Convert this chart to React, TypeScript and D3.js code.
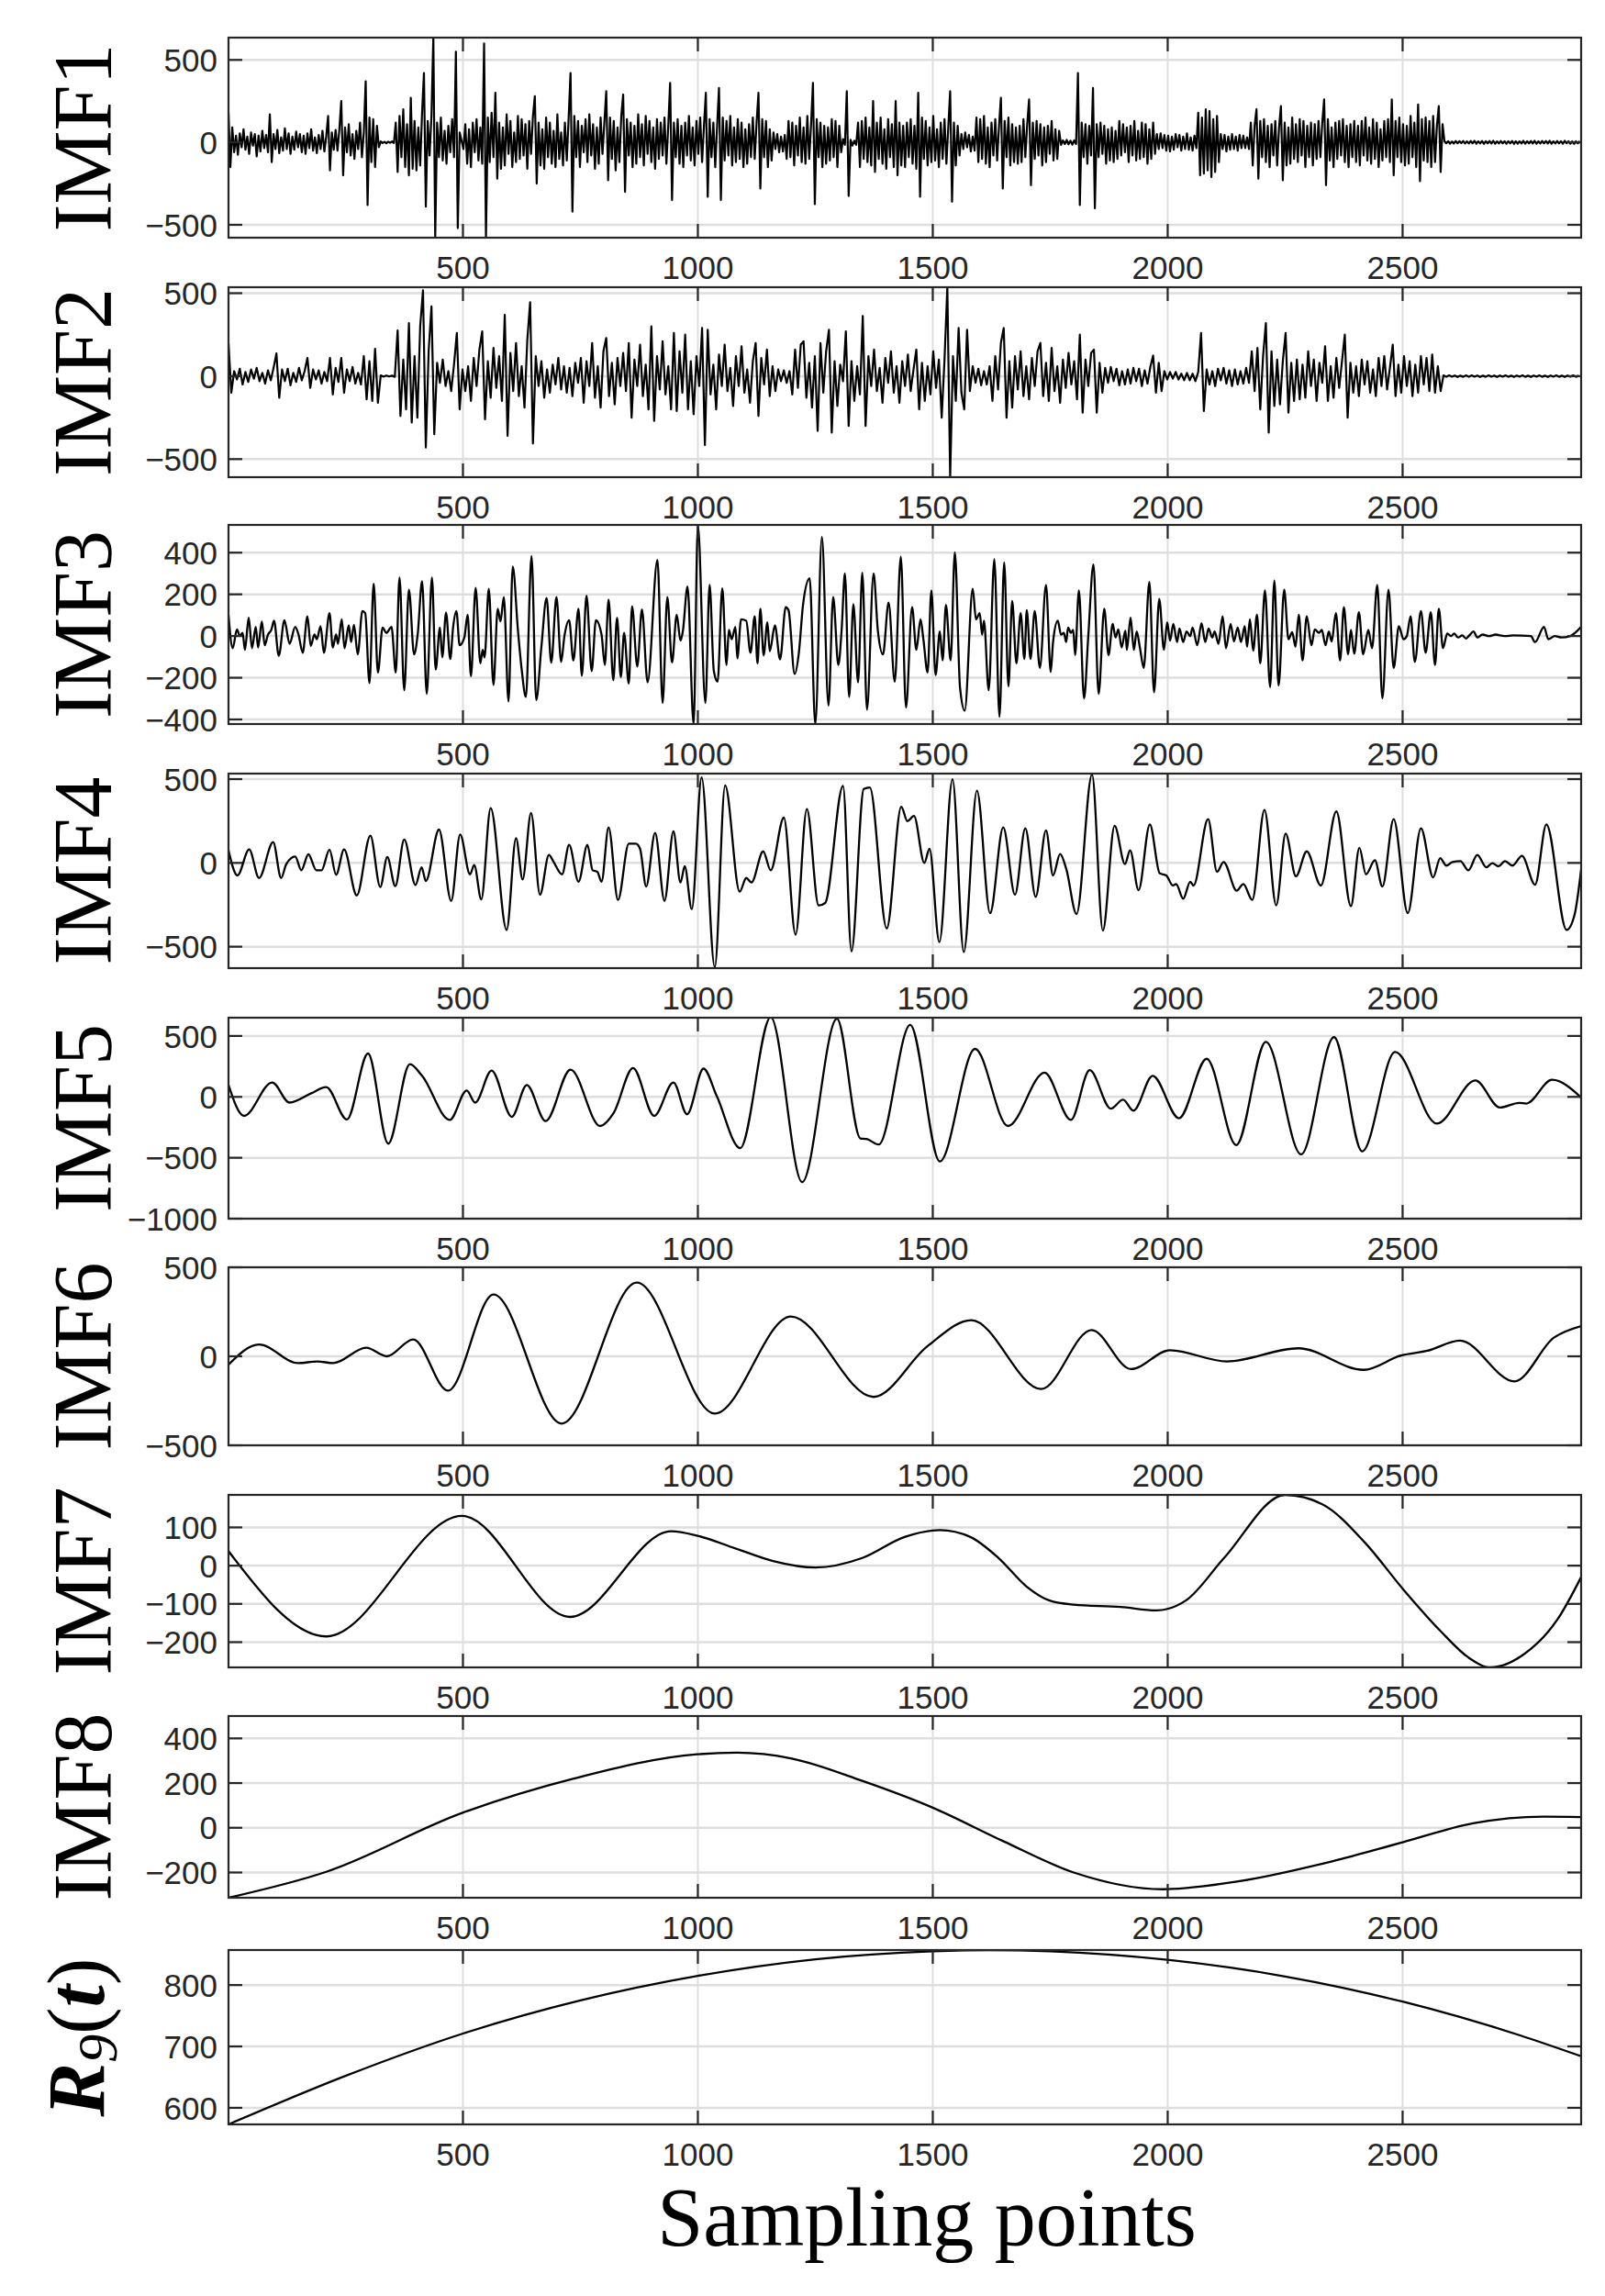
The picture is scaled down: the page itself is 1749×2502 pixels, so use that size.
import React from 'react';
import * as d3 from 'd3';

// ---------------- DATA ----------------
const X_MIN = 1;
const X_MAX = 2880;
const IMF1_STEP = 4;
const IMF2_STEP = 6;
const xTickValues = [500, 1000, 1500, 2000, 2500];

const imf1Values: number[] = [
  180,-150,90,-60,40,-75,55,-30,80,-45,35,-70,60,-20,50,-85,40,-55,70,-35,
  45,-60,170,-120,50,-40,75,-65,30,-50,85,-40,55,-70,35,-45,65,-30,50,-60,
  40,-70,55,-35,80,-50,30,-65,45,-40,70,-55,35,160,-170,60,-45,75,-50,80,
  250,-200,90,-60,110,-80,50,-100,70,-40,120,-90,60,370,-380,150,-120,140,-150,100,
  -30,5,-4,3,-5,4,-3,5,-4,120,-180,160,-90,200,-150,110,-200,270,-160,130,
  -170,90,-140,180,420,-390,130,-80,160,640,-578,120,-90,150,-110,70,-130,100,-60,140,
  -90,550,-520,60,10,-40,110,-130,80,-150,120,-60,140,-110,90,-130,600,-578,150,-120,
  180,-90,300,-220,120,-160,90,-140,170,-70,130,-150,60,-120,160,-100,140,-80,110,-160,
  130,-70,160,280,-250,120,-140,80,-160,150,-90,120,-130,70,-150,170,-100,60,-140,120,
  -110,150,420,-420,160,-90,130,-150,100,-60,140,-120,170,-80,110,-160,90,-130,150,-70,
  120,310,-230,150,-100,130,-170,90,-120,160,290,-300,140,-80,120,-150,100,-130,170,-90,
  110,-140,160,-70,130,-120,90,-160,140,-100,120,-80,150,-130,100,360,-350,120,-90,140,
  -130,100,-150,120,-80,160,-110,90,-140,130,-70,150,-120,100,300,-330,140,-90,120,-150,
  100,330,-350,150,-110,130,-80,160,-140,90,-120,140,-100,120,-150,80,-130,110,-90,150,
  -100,120,300,-280,140,-90,130,-150,80,-110,60,-40,50,-60,35,-55,45,-100,130,-90,
  120,-140,100,-80,150,-120,90,-130,160,-100,110,360,-375,140,-90,120,-150,100,-130,90,
  -110,140,-90,130,-150,100,-60,20,-15,310,-325,15,-20,10,-15,120,-150,130,-100,150,
  -120,90,-140,250,-180,120,-100,150,-130,80,-160,140,-90,110,-150,250,-200,120,-140,100,
  -150,120,-90,140,-130,100,-160,300,-330,150,-100,130,-140,90,-120,160,-110,80,-150,120,
  -100,140,-130,90,310,-360,120,-140,100,-80,50,-40,60,-30,45,-55,35,-50,150,-120,
  140,-100,160,-130,90,-150,120,-80,140,-110,100,270,-280,130,-90,150,-140,110,-120,90,
  -130,100,-120,140,-90,110,260,-260,120,-100,130,-80,110,-140,90,-120,100,-70,130,-110,
  80,-100,70,-15,12,-10,15,-12,10,-14,12,-10,420,-380,120,-90,110,-130,100,-80,
  330,-400,110,-90,120,-70,100,-130,80,-110,90,-120,70,-100,130,-80,110,-60,90,-120,
  100,-80,130,-110,70,-100,120,-90,110,-130,80,-100,120,-70,50,-40,55,-35,45,-50,
  40,-55,35,-45,50,-30,45,-50,35,-40,55,-45,30,-50,40,-35,180,-200,150,-190,
  200,-170,190,-210,140,-180,160,-120,50,-40,45,-55,35,-45,50,-40,35,-50,45,-35,
  40,-35,30,-40,120,-140,100,200,-220,130,-90,140,-120,100,-150,110,-80,130,-140,90,
  220,-230,120,-140,90,-130,150,-100,110,-120,140,-80,130,-150,100,-90,120,-140,110,-100,
  130,-90,120,260,-260,140,-110,90,-150,120,-100,130,-80,140,-120,100,-150,110,-90,130,
  -120,100,-140,130,-80,150,-110,90,-130,140,-100,120,-150,80,-110,130,-90,140,-120,260,
  -200,130,-90,150,-120,110,-140,100,-130,160,-90,120,-150,230,-235,140,-110,150,-120,130,
  -150,160,-120,100,220,-180,110,8,-6,7,-8,5,-7,8,-6,7,-5,8,-7,6,
  -7,8,-6,9,-8,6,-7,8,-9,7,-6,8,-7,9,-8,6,-7,8,-6,7,
  -8,7,-6,8,-9,7,-8,6,-7,9,-8,7,-6,8,-7,9,-8,6,-7,8,
  -6,8,-7,9,-8,6,-7,8,-6,7,-8,9,-6,7,-8,6,-9,7,-6,8,
];

const imf2Values: number[] = [
  200,-100,30,-20,45,-50,25,-35,40,-15,50,-30,20,-45,35,-25,50,137,-130,40,
  -30,45,-55,20,-35,50,-25,30,110,-70,40,-20,35,-45,25,-30,110,-110,50,-35,
  110,-100,40,-30,55,-45,20,-50,120,-140,90,-150,165,-160,5,-3,4,-2,3,-4,
  275,-240,100,-200,320,-280,120,-250,300,518,-430,150,420,-350,80,-40,100,-60,30,-90,
  70,260,-200,40,-90,60,-150,110,-60,160,270,-260,90,-130,170,-70,120,-150,370,-360,
  140,-90,200,-120,60,-190,220,446,-406,120,-60,90,-130,40,-100,70,-50,110,-80,60,
  -100,50,-120,80,-40,110,-160,90,-60,200,-130,60,-190,150,230,-120,80,-170,110,-60,
  140,-90,200,-250,100,-60,190,-120,70,-200,300,-270,120,-80,210,-110,60,-200,260,-210,
  150,-100,250,-200,90,-230,120,-60,290,-415,280,-110,70,-200,130,-60,190,-90,50,-180,
  120,-60,180,-100,40,-160,90,200,-240,110,-50,160,-120,60,-90,40,-30,35,-40,30,
  -110,160,-70,190,210,-130,80,-190,120,-330,200,-100,150,280,-340,90,-180,70,-30,270,
  -300,90,-150,60,-110,363,-300,120,-60,160,-90,50,-160,110,-40,150,-100,60,-160,90,
  -60,130,-90,40,160,-200,80,-150,60,-110,150,-70,100,-250,100,536,-609,120,-150,290,
  -100,-200,280,-90,60,-40,45,-55,30,-50,60,-150,120,-80,200,290,-250,90,-190,120,
  -80,150,-120,60,-140,110,-60,150,200,-120,80,-150,170,-90,60,-160,100,-70,140,-50,
  90,-140,250,-220,100,-60,140,160,-220,80,-100,50,-40,55,-30,45,-55,30,-50,40,
  -45,50,-30,45,-60,35,-45,55,124,-100,80,-90,30,-20,25,-15,25,-20,15,-25,
  20,-25,15,-30,25,260,-210,40,-50,30,-60,45,-25,50,-45,35,-60,40,-50,30,
  -45,50,-40,150,-90,170,-200,120,320,-340,150,-180,100,-170,90,260,-220,80,-150,100,
  -140,70,-130,150,-60,100,-150,80,-40,180,-150,60,-130,110,-70,90,250,-250,80,-100,
  60,-120,100,-50,90,-100,40,-120,110,-60,120,-80,50,190,-120,70,-100,120,-60,90,
  -120,70,-100,120,-50,110,-90,130,-100,60,-90,5,-4,5,-3,4,-5,3,-4,5,
  -4,5,-3,4,-5,3,-4,5,-3,4,-5,4,-3,5,-4,3,-5,4,-3,5,
  -4,3,-5,4,-3,5,-4,3,-5,4,-3,5,-4,3,-5,4,-3,5,-4,3,
];

// IMF3 extrema [sample, value]
const imf3Points: [number, number][] = [
  [1,100],[10,-58],[19,32],[25,0],[31,15],[36,-66],[44,88],[51,-58],[59,44],[64,-55],[72,70],[78,-44],[85,7],[92,29],[98,73],
  [108,-95],[120,76],[131,-37],[143,44],[150,7],[159,-80],[169,95],[176,-47],[184,7],[189,-15],[197,47],[204,-80],[216,110],
  [223,-55],[230,7],[234,-37],[242,80],[248,-58],[257,51],[262,-29],[268,54],[276,-88],[286,120],[292,110],[301,-226],[310,251],
  [319,-175],[329,41],[337,15],[348,44],[357,-175],[365,280],[375,-260],[385,222],[396,-88],[404,15],[413,263],[423,-277],[434,280],
  [442,-160],[451,41],[456,-102],[464,112],[473,-110],[479,41],[486,120],[493,-44],[503,-7],[510,102],[517,-193],[527,231],[537,-131],
  [542,-66],[546,-102],[555,226],[565,-234],[574,131],[580,70],[587,187],[597,-314],[606,333],[617,29],[625,-160],[634,-292],[646,384],
  [656,-307],[667,-51],[678,182],[688,-128],[699,187],[709,-124],[716,0],[726,76],[735,-117],[746,131],[753,-190],[763,193],[774,-168],
  [783,76],[795,7],[802,-139],[810,175],[820,-212],[828,88],[836,-197],[843,15],[853,-228],[860,143],[871,-146],[881,127],[893,-222],
  [914,365],[925,-321],[935,187],[945,-127],[955,102],[963,-22],[968,22],[978,237],[991,-423],[1000,533],[1016,-321],[1025,245],
  [1034,-168],[1042,-219],[1052,229],[1061,-139],[1066,29],[1072,-15],[1080,44],[1084,-107],[1092,80],[1103,73],[1112,-80],[1121,95],
  [1127,-131],[1133,131],[1140,-92],[1148,66],[1153,-73],[1164,51],[1175,-112],[1187,139],[1193,124],[1206,-182],[1215,-80],[1224,153],
  [1238,277],[1250,-423],[1264,475],[1278,-333],[1288,187],[1299,-139],[1306,29],[1313,300],[1322,-292],[1331,153],[1341,-222],[1350,304],
  [1360,-353],[1374,300],[1383,29],[1394,-88],[1406,161],[1419,-219],[1432,380],[1443,-343],[1456,139],[1465,-66],[1474,80],[1480,-15],
  [1489,-175],[1497,219],[1506,-187],[1515,22],[1521,-117],[1528,149],[1538,-117],[1547,401],[1558,-248],[1568,-358],[1585,226],[1592,80],
  [1600,110],[1605,7],[1609,73],[1619,-260],[1631,368],[1642,-387],[1652,353],[1661,-241],[1669,168],[1678,-131],[1687,110],[1695,-110],
  [1700,124],[1708,-110],[1717,120],[1728,-153],[1741,245],[1751,-172],[1756,-29],[1766,73],[1773,7],[1779,15],[1784,-29],[1788,41],
  [1794,15],[1799,29],[1803,-91],[1811,219],[1822,-299],[1831,0],[1842,343],[1853,-277],[1865,131],[1874,-91],[1883,58],[1889,-7],
  [1895,32],[1902,-55],[1910,26],[1913,-66],[1921,88],[1928,-66],[1934,22],[1941,-58],[1949,-153],[1961,260],[1971,-270],[1982,178],
  [1992,-66],[1999,66],[2005,-22],[2012,58],[2020,-29],[2025,36],[2033,-29],[2040,22],[2048,0],[2053,41],[2063,-44],[2072,61],
  [2080,-29],[2087,36],[2095,-7],[2100,22],[2108,-37],[2117,95],[2124,-58],[2134,58],[2141,-26],[2149,41],[2156,-29],[2164,47],
  [2169,-51],[2175,80],[2182,-70],[2190,102],[2197,-131],[2207,219],[2218,-245],[2227,266],[2236,-237],[2248,222],[2257,-15],[2265,18],
  [2272,-51],[2279,102],[2287,-117],[2296,95],[2306,-44],[2313,32],[2322,15],[2328,29],[2336,-44],[2343,22],[2349,-26],[2358,110],
  [2367,-117],[2375,139],[2384,-88],[2390,29],[2397,-85],[2407,114],[2416,-88],[2427,29],[2435,-58],[2446,245],[2457,-299],[2470,222],
  [2481,-153],[2492,47],[2502,-15],[2509,0],[2517,95],[2526,-124],[2539,120],[2549,-80],[2560,114],[2569,-139],[2577,131],[2586,-58],
  [2595,12],[2603,0],[2610,12],[2618,-7],[2627,3],[2635,-12],[2642,3],[2651,22],[2659,-7],[2670,7],[2684,0],[2698,7],[2717,0],
  [2735,3],[2773,0],[2782,-29],[2801,44],[2810,-15],[2824,0],[2838,-7],[2857,0],[2880,44],
];

// IMF4 extrema [sample, value]
const imf4Points: [number, number][] = [
  [1,75],[20,-75],[45,80],[66,-90],[96,124],[113,-90],[124,-7],[143,38],[156,-44],[171,51],[188,-44],[199,-44],[216,79],[230,-71],
  [247,80],[274,-194],[303,163],[324,-144],[339,35],[356,-139],[375,139],[399,-132],[412,-26],[421,-108],[449,199],[475,-227],[494,170],
  [515,-68],[524,-13],[539,-218],[559,327],[593,-400],[613,148],[627,-99],[645,298],[664,-190],[683,48],[692,11],[711,-68],[726,108],
  [746,-112],[765,108],[776,-44],[786,-53],[795,-112],[810,212],[830,-221],[853,115],[868,115],[877,84],[890,-141],[909,179],[929,-227],
  [948,188],[963,-117],[972,-20],[987,-276],[1008,510],[1036,-623],[1058,462],[1089,-172],[1103,-90],[1114,-117],[1139,69],[1155,-44],
  [1183,270],[1208,-428],[1232,322],[1257,-254],[1271,-239],[1309,459],[1327,-528],[1353,441],[1366,450],[1402,-391],[1433,335],[1446,249],
  [1460,280],[1482,0],[1493,84],[1514,-473],[1542,499],[1566,-532],[1594,431],[1622,-300],[1650,212],[1675,-190],[1697,207],[1719,-203],
  [1741,194],[1756,-75],[1771,53],[1784,-35],[1806,-305],[1839,528],[1862,-404],[1887,221],[1909,-7],[1920,75],[1938,-163],[1962,230],
  [1983,-62],[1997,-75],[2011,-135],[2018,-126],[2033,-214],[2048,-112],[2055,-135],[2086,261],[2105,-53],[2119,5],[2147,-166],[2161,-126],
  [2180,-221],[2206,316],[2231,-254],[2251,175],[2273,-80],[2296,69],[2326,-135],[2359,307],[2390,-258],[2408,90],[2422,-68],[2441,16],
  [2457,-141],[2481,261],[2511,-300],[2539,207],[2565,-86],[2580,29],[2593,-16],[2606,5],[2623,11],[2640,-44],[2659,48],[2678,-26],
  [2691,-2],[2704,-20],[2718,11],[2734,-16],[2754,42],[2782,-130],[2806,230],[2849,-400],[2866,-309],[2880,-40],
];

// IMF5 extrema [sample, value]
const imf5Points: [number, number][] = [
  [1,97],[34,-156],[94,118],[131,-47],[177,29],[209,80],[253,-186],[298,356],[341,-384],[387,269],[413,173],[472,-189],[508,52],
  [526,-47],[561,216],[604,-164],[636,97],[676,-199],[729,224],[792,-239],[821,-131],[862,237],[907,-156],[948,118],[977,-143],
  [1012,232],[1040,9],[1090,-421],[1155,654],[1222,-700],[1296,642],[1346,-341],[1359,-346],[1385,-391],[1452,591],[1515,-530],
  [1590,394],[1660,-239],[1738,199],[1794,-189],[1834,219],[1879,-97],[1905,-24],[1927,-113],[1968,173],[2024,-176],[2083,313],
  [2146,-396],[2209,452],[2284,-472],[2354,490],[2414,-447],[2484,368],[2573,-219],[2655,135],[2707,-87],[2748,-49],[2763,-55],
  [2818,140],[2880,-5],
];

// IMF6 extrema [sample, value]
const imf6Points: [number, number][] = [
  [1,-47],[66,66],[149,-38],[190,-29],[224,-38],[294,48],[338,0],[394,95],[468,-193],[565,347],[710,-378],[870,414],[1036,-322],
  [1198,224],[1374,-228],[1490,60],[1582,203],[1731,-184],[1838,148],[1922,-72],[2005,34],[2126,-29],[2278,45],[2417,-76],[2497,5],
  [2553,31],[2622,88],[2738,-141],[2822,105],[2880,170],
];

// IMF7 key points [sample, value]
const imf7Points: [number, number][] = [
  [1,38],[209,-185],[498,130],[728,-134],[943,90],[1000,78],[1080,45],[1160,12],[1250,-5],[1350,20],[1440,75],[1515,93],[1580,75],
  [1640,20],[1700,-55],[1750,-92],[1800,-102],[1900,-108],[1976,-117],[2040,-90],[2120,20],[2250,185],[2330,160],[2420,60],[2500,-60],
  [2580,-170],[2640,-240],[2687,-266],[2760,-230],[2830,-140],[2880,-30],
];

// IMF8 key points [sample, value]
const imf8Points: [number, number][] = [
  [1,-313],[209,-197],[498,66],[736,220],[999,329],[1083,336],[1200,310],[1350,210],[1500,90],[1650,-60],[1800,-200],[1990,-275],
  [2150,-240],[2350,-150],[2500,-65],[2650,20],[2800,50],[2880,48],
];

// Residual R9(t) key points [sample, value]
const r9Points: [number, number][] = [
  [1,573],[250,652],[500,721],[750,775],[1000,815],[1250,842],[1500,855],[1620,857],[1750,855],[2000,841],[2250,814],[2500,773],
  [2750,718],[2880,684],
];

const imfLabels = ['IMF1', 'IMF2', 'IMF3', 'IMF4', 'IMF5', 'IMF6', 'IMF7', 'IMF8'];
const yTicks: number[][] = [
  [-500, 0, 500],
  [-500, 0, 500],
  [-400, -200, 0, 200, 400],
  [-500, 0, 500],
  [-1000, -500, 0, 500],
  [-500, 0, 500],
  [-200, -100, 0, 100],
  [-200, 0, 200, 400],
  [600, 700, 800],
];
const yLimits: [number, number][] = [
  [-578, 635],
  [-609, 536],
  [-422, 533],
  [-628, 533],
  [-1000, 650],
  [-500, 500],
  [-266, 185],
  [-313, 500],
  [573, 857],
];

// ---------------- LAYOUT ----------------
const LEFT = 249;
const RIGHT = 1723;
const panelBoxes: [number, number][] = [
  [41, 259], [313, 520], [572, 789], [843, 1055], [1109, 1328],
  [1381, 1575], [1629, 1817], [1870, 2068], [2125, 2315],
];

const AXIS_COLOR = '#262626';
const GRID_COLOR = '#dedede';
const TICK_FONT = '"Liberation Sans", Arial, Helvetica, sans-serif';
const SERIF = '"Liberation Serif", "Times New Roman", Times, serif';
const TICK_LEN = 15;
const TICK_SIZE = 35;

const fmt = (v: number) => (v < 0 ? '\u2212' + Math.abs(v) : String(v));

const noiseToPoints = (vals: number[], step: number): [number, number][] =>
  vals.map((v, i) => [X_MIN + i * step, v]);

type PanelDef = {
  points: [number, number][];
  smooth: boolean;
  width: number;
  limits: [number, number];
  ticks: number[];
  box: [number, number];
  idx: number;
};

const seriesList: { points: [number, number][]; smooth: boolean; width: number }[] = [
  { points: noiseToPoints(imf1Values, IMF1_STEP), smooth: false, width: 2.2 },
  { points: noiseToPoints(imf2Values, IMF2_STEP), smooth: false, width: 2.2 },
  { points: imf3Points, smooth: true, width: 2.3 },
  { points: imf4Points, smooth: true, width: 2.3 },
  { points: imf5Points, smooth: true, width: 2.3 },
  { points: imf6Points, smooth: true, width: 2.3 },
  { points: imf7Points, smooth: true, width: 2.3 },
  { points: imf8Points, smooth: true, width: 2.3 },
  { points: r9Points, smooth: true, width: 2.3 },
];

const panels: PanelDef[] = seriesList.map((s, i) => ({
  points: s.points,
  smooth: s.smooth,
  width: s.width,
  limits: yLimits[i],
  ticks: yTicks[i],
  box: panelBoxes[i],
  idx: i,
}));

const xScale = d3.scaleLinear().domain([X_MIN, X_MAX]).range([LEFT, RIGHT]);

function Panel({ p }: { p: PanelDef }) {
  const [top, bottom] = p.box;
  const y = d3.scaleLinear().domain(p.limits).range([bottom, top]);
  const line = d3
    .line<[number, number]>()
    .x((d) => xScale(d[0]))
    .y((d) => y(d[1]))
    .curve(p.smooth ? d3.curveMonotoneX : d3.curveLinear);
  const clipId = `clip-${p.idx}`;
  const cy = (top + bottom) / 2;
  const xt = xTickValues;
  return (
    <g>
      <defs>
        <clipPath id={clipId}>
          <rect x={LEFT} y={top} width={RIGHT - LEFT} height={bottom - top} />
        </clipPath>
      </defs>
      {xt.map((t) => (
        <line key={'gx' + t} x1={xScale(t)} x2={xScale(t)} y1={top} y2={bottom} stroke={GRID_COLOR} strokeWidth={2} />
      ))}
      {p.ticks.map((t) => (
        <line key={'gy' + t} x1={LEFT} x2={RIGHT} y1={y(t)} y2={y(t)} stroke={GRID_COLOR} strokeWidth={2.5} />
      ))}
      <path
        d={line(p.points) || ''}
        fill="none"
        stroke="#000"
        strokeWidth={p.width}
        strokeLinejoin="round"
        clipPath={`url(#${clipId})`}
      />
      <rect x={LEFT} y={top} width={RIGHT - LEFT} height={bottom - top} fill="none" stroke={AXIS_COLOR} strokeWidth={2.2} />
      {xt.map((t) => (
        <g key={'xt' + t}>
          <line x1={xScale(t)} x2={xScale(t)} y1={top} y2={top + TICK_LEN} stroke={AXIS_COLOR} strokeWidth={2.2} />
          <line x1={xScale(t)} x2={xScale(t)} y1={bottom} y2={bottom - TICK_LEN} stroke={AXIS_COLOR} strokeWidth={2.2} />
          <text x={xScale(t)} y={bottom + 45} textAnchor="middle" fontFamily={TICK_FONT} fontSize={TICK_SIZE} fill={AXIS_COLOR}>
            {fmt(t)}
          </text>
        </g>
      ))}
      {p.ticks.map((t) => (
        <g key={'yt' + t}>
          <line x1={LEFT} x2={LEFT + TICK_LEN} y1={y(t)} y2={y(t)} stroke={AXIS_COLOR} strokeWidth={2.2} />
          <line x1={RIGHT} x2={RIGHT - TICK_LEN} y1={y(t)} y2={y(t)} stroke={AXIS_COLOR} strokeWidth={2.2} />
          <text x={LEFT - 12} y={y(t)} dy="0.36em" textAnchor="end" fontFamily={TICK_FONT} fontSize={TICK_SIZE} fill={AXIS_COLOR}>
            {fmt(t)}
          </text>
        </g>
      ))}
      {p.idx < imfLabels.length ? (
        <text transform={`translate(121, ${cy}) rotate(-90)`} textAnchor="middle" fontFamily={SERIF} fontSize={90} fill="#000">
          {imfLabels[p.idx]}
        </text>
      ) : (
        <text transform={`translate(113, ${cy}) rotate(-90)`} textAnchor="middle" fontFamily={SERIF} fontSize={88} fill="#000">
          <tspan fontStyle="italic" fontWeight="bold">R</tspan>
          <tspan fontStyle="italic" fontSize={62} dy={14}>9</tspan>
          <tspan dy={-14}>(</tspan>
          <tspan fontStyle="italic" fontWeight="bold">t</tspan>
          <tspan>)</tspan>
        </text>
      )}
    </g>
  );
}

export default function App() {
  return (
    <svg
      width={1749}
      height={2502}
      viewBox="0 0 1749 2502"
      style={{ position: 'absolute', left: 0, top: 0, background: '#fff' }}
    >
      <rect x={0} y={0} width={1749} height={2502} fill="#fff" />
      {panels.map((p) => (
        <Panel key={p.idx} p={p} />
      ))}
      <text x={1010} y={2447} textAnchor="middle" fontFamily={SERIF} fontSize={90} fill="#000">
        Sampling points
      </text>
    </svg>
  );
}
